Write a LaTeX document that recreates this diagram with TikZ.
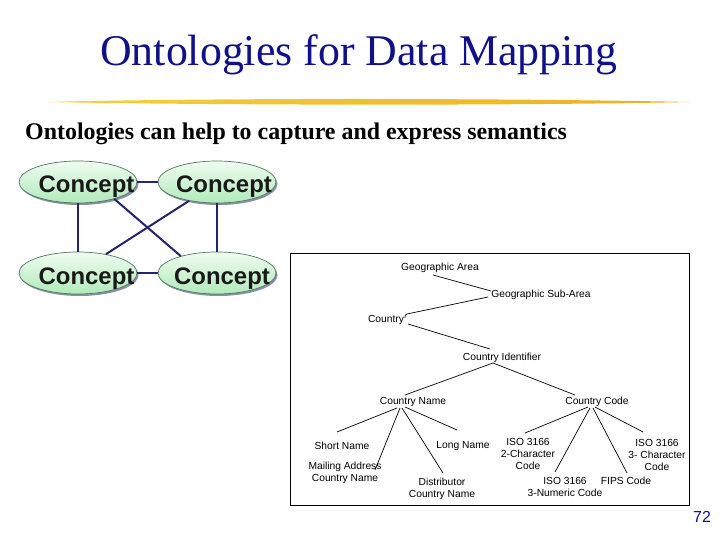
\documentclass[tikz,border=0pt]{standalone}
\usepackage{fontspec}
\setmainfont{Liberation Serif}
\setsansfont{Liberation Sans}
\usetikzlibrary{shapes.geometric,shadows}
\definecolor{navy}{HTML}{10108A}
\definecolor{linkblue}{HTML}{24246E}
\definecolor{gold1}{HTML}{F4D040}
\definecolor{gold2}{HTML}{EBB020}
\definecolor{cfilltop}{HTML}{F0FCF0}
\definecolor{cfillbot}{HTML}{B0EABA}
\definecolor{cborder}{HTML}{4E7A5E}
\definecolor{cshadow}{HTML}{5A5E80}
\begin{document}
\begin{tikzpicture}[x=1bp,y=-1bp,
  conc/.style={ellipse,draw=cborder,line width=0.7bp,minimum width=118bp,minimum height=42bp,inner sep=0pt,
    top color=cfilltop,bottom color=cfillbot,
    drop shadow={shadow xshift=1.5bp,shadow yshift=-2bp,fill=cshadow,opacity=0.7}},
  ctext/.style={font=\sffamily\bfseries\fontsize{24}{28}\selectfont,anchor=base,inner sep=0pt,text=black!90},
  link/.style={draw=linkblue,line width=2bp},
  tn/.style={font=\sffamily\fontsize{10.3}{12}\selectfont,align=center,inner sep=0pt},
  tline/.style={draw=black,line width=0.7bp}]
\useasboundingbox (0,0) rectangle (720,540);
% title
\node[anchor=base,font=\fontsize{44}{48}\selectfont,text=navy,inner sep=0pt] (title) at (359,66) {Ontologies for Data Mapping};
\shade[left color=gold1,right color=gold2] (47,102) .. controls (200,98) and (500,98) .. (690,102) .. controls (500,106) and (200,105) .. (47,102) -- cycle;
\node[anchor=base west,font=\bfseries\fontsize{24}{28}\selectfont,inner sep=0pt] (sub) at (25,140) {Ontologies can help to capture and express semantics};
% concepts
\node[conc] (tl) at (78,182) {};
\node[conc] (tr) at (217,182) {};
\node[conc] (bl) at (78,273) {};
\node[conc] (br) at (217,273) {};
\draw[link] (tl) -- (tr);
\draw[link] (tl) -- (bl);
\draw[link] (tr) -- (br);
\draw[link] (bl) -- (br);
\draw[link] (tl.-25) -- (br.155);
\draw[link] (tr.-146) -- (bl.34);
\node[ctext] (tlt) at (86.5,193) {Concept};
\node[ctext] (trt) at (224,193) {Concept};
\node[ctext] (blt) at (86.5,285) {Concept};
\node[ctext] (brt) at (222,285) {Concept};
% tree box
\node[draw,line width=0.9bp,minimum width=399bp,minimum height=252bp,inner sep=0pt] (box) at (489.5,379) {};
\node[tn] (ga) at (440,268) {Geographic Area};
\node[tn] (gsa) at (541,295) {Geographic Sub-Area};
\node[tn] (cty) at (386,320) {Country};
\node[tn] (ci) at (502,358) {Country Identifier};
\node[tn] (cn) at (413,402) {Country Name};
\node[tn] (cc) at (597,402) {Country Code};
\node[tn] (sn) at (342,446) {Short Name};
\node[tn] (ma) at (345,473) {Mailing Address\\Country Name};
\node[tn] (ln) at (463,446) {Long Name};
\node[tn] (dist) at (442,489) {Distributor\\Country Name};
\node[tn] (iso2) at (528,454) {ISO 3166\\2-Character\\Code};
\node[tn] (ison) at (565,487) {ISO 3166\\3-Numeric Code};
\node[tn] (fips) at (626,481) {FIPS Code};
\node[tn] (iso3) at (657,455) {ISO 3166\\3- Character\\Code};
\draw[tline] ([shift={(-7,7)}]ga.center) -- ([shift={(-50,-4)}]gsa.center);
\draw[tline] ([shift={(-53,2)}]gsa.center) -- ([shift={(21,-6)}]cty.center) .. controls ([shift={(19,-5)}]cty.center) .. ([shift={(19,-2)}]cty.center);
\draw[tline] ([shift={(22,4)}]cty.center) -- ([shift={(-12,-9)}]ci.center);
\draw[tline] ([shift={(-9,5)}]ci.center) -- ([shift={(-8,-7)}]cn.center);
\draw[tline] ([shift={(-9,5)}]ci.center) -- ([shift={(-22,-7)}]cc.center);
\draw[tline] ([shift={(-16,6)}]cn.center) -- ([shift={(-5,-14)}]sn.center);
\draw[tline] ([shift={(-13,6)}]cn.center) -- ([shift={(30,-3)}]ma.center);
\draw[tline] ([shift={(-11,6)}]cn.center) -- ([shift={(1,-16)}]dist.center);
\draw[tline] ([shift={(-8,5)}]cn.center) -- ([shift={(-6,-16)}]ln.center);
\draw[tline] ([shift={(-9,5)}]cc.center) -- ([shift={(-3,-21)}]iso2.center);
\draw[tline] ([shift={(-7,6)}]cc.center) -- ([shift={(-10,-15)}]ison.center);
\draw[tline] ([shift={(-4,6)}]cc.center) -- ([shift={(1,-8)}]fips.center);
\draw[tline] ([shift={(-2,5)}]cc.center) -- ([shift={(-14,-23)}]iso3.center);
\node[font=\sffamily\fontsize{16}{18}\selectfont,text=navy,inner sep=0pt] (pg) at (702,517) {72};
\end{tikzpicture}
\end{document}
